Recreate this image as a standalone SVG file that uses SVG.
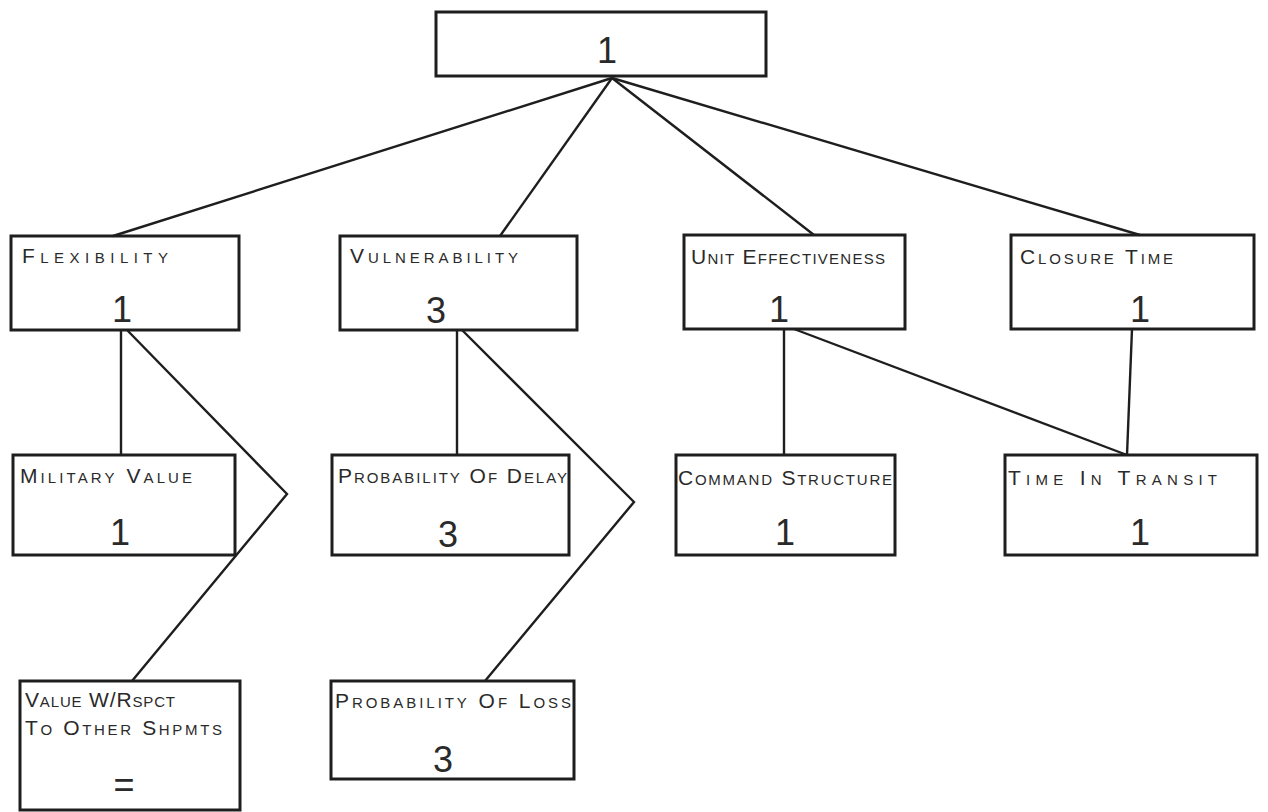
<svg xmlns="http://www.w3.org/2000/svg" width="1268" height="812" viewBox="0 0 1268 812">
<style>
.box{fill:none;stroke:#1e1e1e;stroke-width:3}
.ln{fill:none;stroke:#1e1e1e;stroke-width:2.4;stroke-linejoin:miter}
.lbl{font-family:"Liberation Sans",Arial,sans-serif;font-size:21px;font-variant:small-caps;fill:#2a2a2a}
.num{font-family:"Liberation Sans",Arial,sans-serif;font-size:36px;fill:#2a2a2a;text-anchor:middle}
</style>
<rect width="1268" height="812" fill="#ffffff"/>
<g id="connectors">
<path class="ln" d="M612,78 L113,236"/>
<path class="ln" d="M612,78 L500,236"/>
<path class="ln" d="M612,78 L814,235"/>
<path class="ln" d="M612,78 L1140,235"/>
<path class="ln" d="M121,330 L121,455"/>
<path class="ln" d="M127,330 L287,494 L132,681"/>
<path class="ln" d="M457,330 L457,455"/>
<path class="ln" d="M462,330 L634,502 L485,681"/>
<path class="ln" d="M784,329 L784,455"/>
<path class="ln" d="M794,329 L1127,455"/>
<path class="ln" d="M1132,329 L1127,455"/>
</g>
<g id="n-root">
<rect class="box" x="436" y="12" width="330" height="64"/>
<text class="num" x="607" y="63" font-size="48">1</text>
</g>
<g id="n-flexibility">
<rect class="box" x="11" y="236" width="228" height="94"/>
<text class="lbl" x="22" y="263" textLength="146" lengthAdjust="spacing">Flexibility</text>
<text class="num" x="122" y="322">1</text>
</g>
<g id="n-vulnerability">
<rect class="box" x="340" y="236" width="237" height="94"/>
<text class="lbl" x="350" y="263" textLength="168" lengthAdjust="spacing">Vulnerability</text>
<text class="num" x="436" y="323">3</text>
</g>
<g id="n-unit-effectiveness">
<rect class="box" x="684" y="235" width="221" height="94"/>
<text class="lbl" x="691" y="264" textLength="194" lengthAdjust="spacing">Unit Effectiveness</text>
<text class="num" x="779" y="322">1</text>
</g>
<g id="n-closure-time">
<rect class="box" x="1011" y="235" width="243" height="94"/>
<text class="lbl" x="1020" y="264" textLength="153" lengthAdjust="spacing">Closure Time</text>
<text class="num" x="1140" y="322">1</text>
</g>
<g id="n-military-value">
<rect class="box" x="13" y="455" width="222" height="100"/>
<text class="lbl" x="20" y="483" textLength="172" lengthAdjust="spacing">Military Value</text>
<text class="num" x="120" y="545">1</text>
</g>
<g id="n-probability-delay">
<rect class="box" x="332" y="455" width="237" height="100"/>
<text class="lbl" x="338" y="483" textLength="229" lengthAdjust="spacing">Probability Of Delay</text>
<text class="num" x="448" y="547">3</text>
</g>
<g id="n-command-structure">
<rect class="box" x="676" y="455" width="219" height="100"/>
<text class="lbl" x="678" y="485" textLength="214" lengthAdjust="spacing">Command Structure</text>
<text class="num" x="785" y="545">1</text>
</g>
<g id="n-time-in-transit">
<rect class="box" x="1005" y="455" width="252" height="100"/>
<text class="lbl" x="1008" y="485" textLength="209" lengthAdjust="spacing">Time In Transit</text>
<text class="num" x="1140" y="545">1</text>
</g>
<g id="n-value-wrt-others">
<rect class="box" x="20" y="681" width="220" height="129"/>
<text class="lbl" x="25" y="707" textLength="150" lengthAdjust="spacing">Value W/Rspct</text>
<text class="lbl" x="25" y="735" textLength="197" lengthAdjust="spacing">To Other Shpmts</text>
<text class="num" x="124" y="797">=</text>
</g>
<g id="n-probability-loss">
<rect class="box" x="331" y="681" width="243" height="98"/>
<text class="lbl" x="335" y="708" textLength="236" lengthAdjust="spacing">Probability Of Loss</text>
<text class="num" x="443" y="772">3</text>
</g>
</svg>
